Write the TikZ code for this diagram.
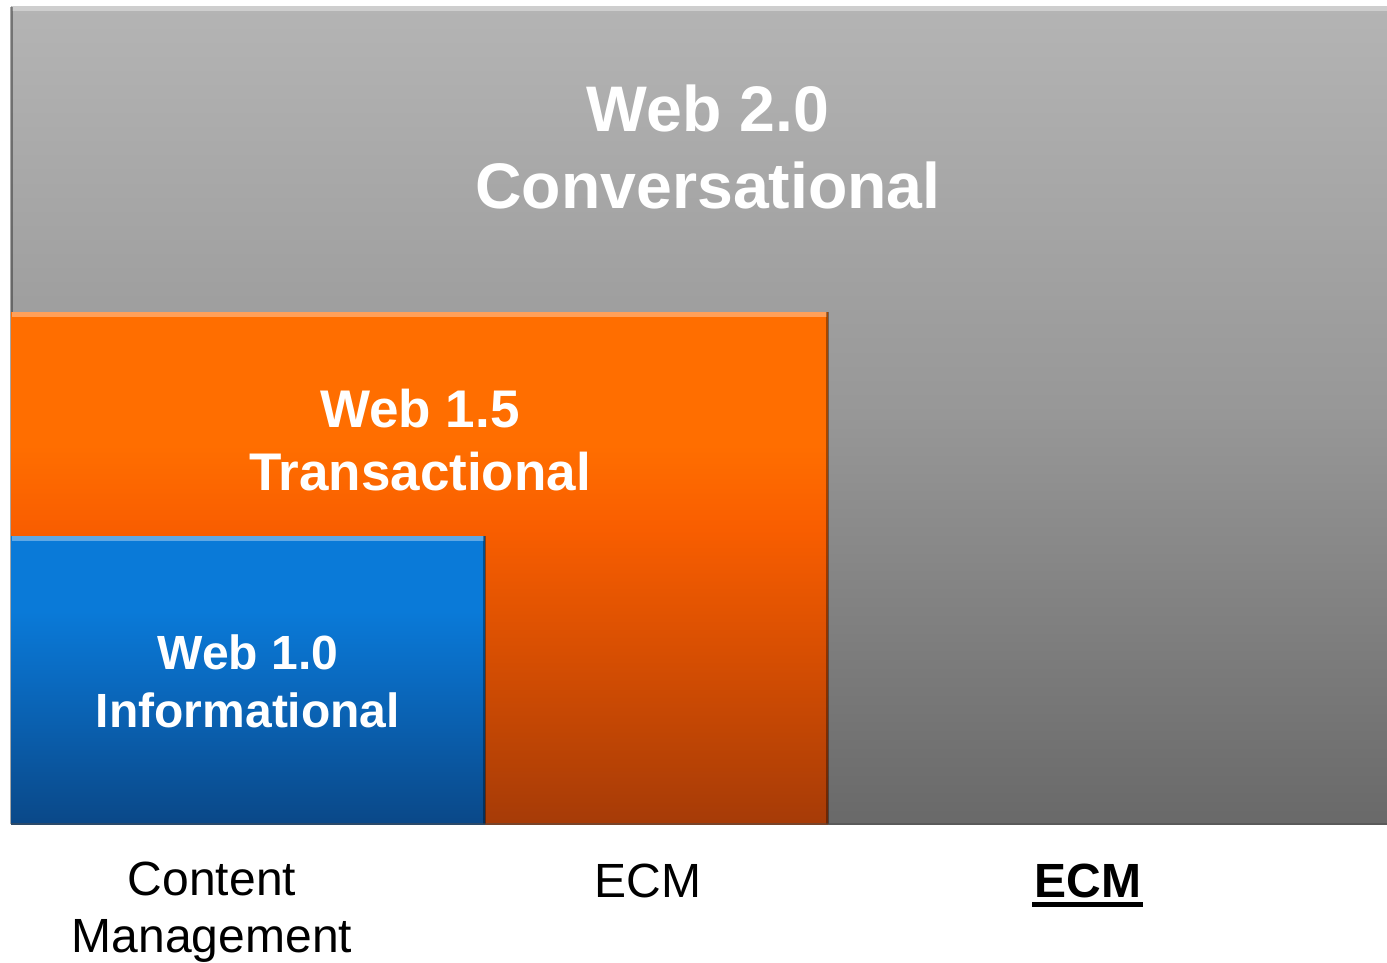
\documentclass[tikz,border=0pt]{standalone}
\usepackage{fontspec}
\setmainfont{Liberation Sans}
\usepackage{xcolor}
\usetikzlibrary{positioning}

\definecolor{grayTop}{HTML}{B4B4B4}
\definecolor{grayMid}{HTML}{979797}
\definecolor{grayBot}{HTML}{696969}
\definecolor{orngTop}{HTML}{FF6E00}
\definecolor{orngMid}{HTML}{F95E00}
\definecolor{orngDk}{HTML}{D84F02}
\definecolor{orngBot}{HTML}{A63B07}
\definecolor{blueTop}{HTML}{0A7AD8}
\definecolor{blueMid}{HTML}{0A6AC0}
\definecolor{blueBot}{HTML}{0A4888}

% stops run from bottom (25bp) to top (75bp)
\pgfdeclareverticalshading{grayshade}{100bp}{color(0bp)=(grayBot); color(25bp)=(grayBot); color(50bp)=(grayMid); color(75bp)=(grayTop); color(100bp)=(grayTop)}
\pgfdeclareverticalshading{orngshade}{100bp}{color(0bp)=(orngBot); color(25bp)=(orngBot); color(42bp)=(orngDk); color(54bp)=(orngMid); color(62bp)=(orngTop); color(75bp)=(orngTop); color(100bp)=(orngTop)}
\pgfdeclareverticalshading{blueshade}{100bp}{color(0bp)=(blueBot); color(25bp)=(blueBot); color(50bp)=(blueMid); color(62bp)=(blueTop); color(75bp)=(blueTop); color(100bp)=(blueTop)}

\tikzset{
  webtitle/.style={text=white, align=center, inner sep=0pt},
  axislabel/.style={text=black, align=center, inner sep=0pt},
  bevellight/.style={line width=2.5pt, white, opacity=0.35},
  beveldark/.style={line width=1.5pt, black, opacity=0.35}
}

\begin{document}
\begin{tikzpicture}[x=0.5pt,y=-0.5pt]
\useasboundingbox[fill=white] (0,0) rectangle (1387,963);

% Web 2.0
\shade[shading=grayshade] (11,7) rectangle (1387,824);
\draw[bevellight] (12,9) -- (1387,9);
\draw[beveldark] (11.5,7) -- (11.5,824);
% Web 1.5
\shade[shading=orngshade] (11,312) rectangle (828,824);
\draw[bevellight] (12,314) -- (827,314);
\draw[beveldark] (827,312) -- (827,824);
% Web 1.0
\shade[shading=blueshade] (11,536) rectangle (485,824);
\draw[bevellight] (12,538) -- (484,538);
\draw[beveldark] (484,536) -- (484,824);
\draw[line width=1pt, black!70, opacity=0.5] (11,824) -- (1387,824);

\node[webtitle, font=\bfseries\fontsize{32.2}{38.5}\selectfont] (web20) at (708,147) {Web 2.0\\Conversational};
\node[webtitle, font=\bfseries\fontsize{26.5}{31.5}\selectfont] (web15) at (420,440) {Web 1.5\\Transactional};
\node[webtitle, font=\bfseries\fontsize{24}{29}\selectfont] (web10) at (248,681) {Web 1.0\\Informational};

\node[axislabel, font=\fontsize{24}{28.5}\selectfont] (cm) at (212,912) {Content\\Management};
\node[axislabel, font=\fontsize{24}{28.5}\selectfont] (ecm) at (648,881) {ECM};
\node[axislabel, font=\bfseries\fontsize{24}{28.5}\selectfont] (ecmb) at (1088,881) {ECM};
\draw[line width=2.8pt] ([xshift=-1pt,yshift=-3pt]ecmb.south west) -- ([xshift=0.5pt,yshift=-3pt]ecmb.south east);
\end{tikzpicture}
\end{document}
